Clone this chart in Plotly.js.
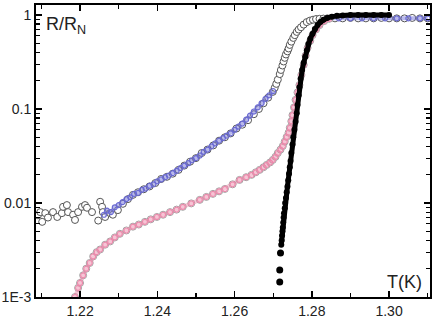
<!DOCTYPE html>
<html>
<head>
<meta charset="utf-8">
<script src="https://cdn.plot.ly/plotly-3.0.1.min.js"></script>
<style>html,body{margin:0;padding:0;background:#fff;}#chart{width:436px;height:319px;}</style>
</head>
<body>
<div id="chart"></div>
<script>
// Upper curve: open circles
var upperT = [1.2091,1.2097,1.2102,1.2110,1.2117,1.2130,1.2141,1.2153,1.2156,1.2166,1.2169,1.2182,1.2187,1.2195,1.2205,1.2213,1.2218,1.2231,1.2247,1.2252,1.2257,1.2259,1.2265,1.2278,1.2285,1.2298,1.2311,1.2324,1.2337,
  1.2350,1.2365,1.2380,1.2395,1.2410,1.2425,1.2440,1.2455,1.2470,1.2485,1.2500,1.2515,1.2530,1.2545,1.2560,1.2575,1.2590,1.2605,1.2620,1.2635,1.2650,1.2663,1.2675,1.2687,1.2699,
  1.2704,1.2708,1.2712,1.2717,1.2720,1.2724,1.2727,1.2730,1.2733,1.2737,1.2740,1.2743,1.2747,1.2752,1.2756,1.2761,1.2766,1.2772,1.2779,1.2787,1.2795,1.2803,1.2811,1.2820,1.2830,1.2840,
  1.2860,1.2880,1.2900,1.2920,1.2940,1.2960,1.2980,1.3000,1.3020,1.3040,1.3060,1.3080,1.3100];
var upperR = [0.0074,0.0080,0.0063,0.0078,0.0070,0.0080,0.0071,0.0078,0.0091,0.0095,0.0080,0.0075,0.0066,0.0080,0.0091,0.0095,0.0089,0.0080,0.0065,0.0103,0.0091,0.0080,0.0071,0.0078,0.0075,0.0084,0.0098,0.0110,0.0122,
  0.0130,0.0140,0.0150,0.0163,0.0180,0.0190,0.0205,0.0225,0.0250,0.0275,0.030,0.034,0.037,0.041,0.046,0.050,0.055,0.062,0.068,0.076,0.088,0.100,0.115,0.132,0.152,
  0.168,0.185,0.205,0.235,0.26,0.29,0.32,0.35,0.38,0.41,0.44,0.48,0.52,0.57,0.61,0.66,0.70,0.74,0.79,0.84,0.87,0.89,0.905,0.91,0.915,0.92,
  0.92,0.92,0.93,0.92,0.92,0.92,0.93,0.92,0.92,0.92,0.93,0.92,0.92];

// Upper curve: blue markers (transition part and normal-state part)
var blueT = [1.2262,1.2270,1.2280,1.2290,1.2300,1.2310,1.2320,1.2330,1.2340,1.2350,1.2360,1.2370,1.2380,1.2390,1.2400,1.2410,1.2420,1.2430,1.2440,1.2450,1.2460,1.2470,1.2480,1.2490,1.2500,1.2510,1.2520,1.2530,1.2540,1.2550,1.2560,1.2570,1.2580,1.2590,1.2600,1.2610,1.2620,1.2630,1.2640,1.2650,1.2660,1.2670,1.2680,1.2690,1.2700];
var blueR = [0.0075,0.0083,0.0080,0.0090,0.0095,0.0102,0.0110,0.0115,0.0125,0.0128,0.0138,0.0142,0.0152,0.0158,0.0170,0.0178,0.0188,0.0196,0.0208,0.0220,0.0235,0.0250,0.0265,0.0285,0.030,0.032,0.035,0.037,0.040,0.043,0.046,0.049,0.052,0.055,0.060,0.065,0.070,0.077,0.085,0.094,0.104,0.115,0.128,0.140,0.155];
var blueTopT = [1.2840,1.2870,1.2900,1.2930,1.2960,1.2990,1.3020,1.3050,1.3080,1.3100];
var blueTopR = [0.92,0.92,0.92,0.92,0.92,0.92,0.92,0.92,0.92,0.92];

// Lower curve: pink + open circles
var lowerT = [1.2187,1.2195,1.2200,1.2208,1.2216,1.2225,1.2234,1.2243,1.2252,1.2265,1.2278,1.2290,1.2303,1.2320,1.2337,1.2352,1.2368,1.2383,1.2399,1.2415,1.2433,1.2450,1.2466,1.2488,1.2510,1.2527,1.2544,1.2560,1.2575,1.2595,1.2613,1.2630,1.2644,1.2655,1.2665,1.2675,1.2683,1.2692,1.2699,1.2706,1.2712,1.2719,1.2725,1.2730,1.2735,1.2740,1.2743,1.2747,1.2750,1.2754,1.2758,1.2763,1.2768,1.2773,1.2779,1.2784,1.2789,1.2796,1.2802,1.2811,1.2820,1.2832,1.2845];
var lowerR = [0.0010,0.00125,0.00141,0.0017,0.0020,0.0023,0.0027,0.0030,0.0032,0.0036,0.0039,0.0043,0.0047,0.0051,0.0056,0.0059,0.0063,0.0067,0.0071,0.0075,0.0080,0.0085,0.0091,0.0099,0.0108,0.0116,0.0125,0.0133,0.0141,0.0158,0.0176,0.0188,0.0199,0.0212,0.0225,0.0240,0.0254,0.0270,0.0287,0.031,0.034,0.037,0.0404,0.045,0.0504,0.056,0.063,0.074,0.086,0.104,0.125,0.150,0.18,0.23,0.294,0.37,0.446,0.53,0.61,0.70,0.78,0.86,0.91];

// Steep curve: filled black circles
var sparseT = [1.2717,1.2717,1.2719];
var sparseR = [0.00144,0.00194,0.00294];
var blackT = [1.2721,1.2722,1.2723,1.2724,1.2725,1.2726,1.2727,1.2728,1.2730,1.2731,1.2733,1.2735,1.2737,1.2739,1.2741,1.2743,1.2745,1.2747,1.2750,1.2752,1.2755,1.2758,1.2761,1.2763,1.2766,1.2768,1.2771,1.2775,1.2779,1.2783,1.2787,1.2791,1.2796,1.2802,1.2808,1.2815,1.2822,1.2830,1.2840,1.2852,1.2865,1.2880,1.2900,1.2920,1.2940,1.2960,1.2980,1.3000];
var blackR = [0.0036,0.0040,0.0045,0.0050,0.0055,0.0062,0.0070,0.0078,0.0088,0.0100,0.0113,0.0130,0.0150,0.0175,0.0205,0.0240,0.028,0.034,0.042,0.050,0.060,0.073,0.090,0.11,0.14,0.17,0.21,0.26,0.31,0.36,0.42,0.49,0.56,0.63,0.71,0.78,0.84,0.89,0.93,0.96,0.98,0.99,1.0,1.0,1.0,1.0,1.0,1.0];

var yTickVals = [1, 0.1, 0.01, 0.001];
var yTickText = ['1', '0.1', '0.01', '1E-3'];

var blueLine = {color: 'rgba(115,115,215,0.5)', width: 4};
var blueMarker = {symbol: 'circle-open', size: 5, color: '#6a6ad2', line: {width: 1.2}};

var traces = [
  {x: upperT, y: upperR, type: 'scatter', mode: 'markers',
   marker: {symbol: 'circle', size: 7, color: '#ffffff', line: {color: '#555555', width: 1}}},
  {x: blueT, y: blueR, type: 'scatter', mode: 'lines+markers', line: blueLine, marker: blueMarker},
  {x: blueTopT, y: blueTopR, type: 'scatter', mode: 'lines+markers', line: blueLine, marker: blueMarker},
  {x: lowerT, y: lowerR, type: 'scatter', mode: 'markers',
   marker: {symbol: 'circle', size: 7, color: '#ffffff', line: {color: '#a0a0a0', width: 1}}},
  {x: lowerT, y: lowerR, type: 'scatter', mode: 'lines+markers',
   line: {color: 'rgba(238,140,172,0.5)', width: 4},
   marker: {symbol: 'circle-open', size: 5, color: '#ec8aac', line: {width: 1.2}}},
  {x: sparseT, y: sparseR, type: 'scatter', mode: 'markers',
   marker: {symbol: 'circle', size: 7, color: '#000000'}},
  {x: blackT, y: blackR, type: 'scatter', mode: 'lines+markers',
   line: {color: '#000000', width: 5},
   marker: {symbol: 'circle', size: 6, color: '#000000'}}
];

var layout = {
  width: 436, height: 319,
  margin: {l: 36, r: 6, t: 5, b: 22, pad: 0},
  paper_bgcolor: '#ffffff', plot_bgcolor: '#ffffff',
  showlegend: false,
  font: {family: 'Liberation Sans, Arial, sans-serif', color: '#222222', size: 14},
  xaxis: {
    range: [1.2086, 1.3106], dtick: 0.02, tick0: 1.22, tickformat: '.2f',
    ticks: 'inside', ticklen: 6, tickwidth: 1.5, tickcolor: '#000',
    showline: true, linecolor: '#000', linewidth: 2, mirror: 'allticks',
    showgrid: false, zeroline: false,
    minor: {dtick: 0.01, tick0: 1.21, ticks: 'inside', ticklen: 4, tickwidth: 1.2, tickcolor: '#000', showgrid: false},
    tickfont: {size: 14, color: '#222'}
  },
  yaxis: {
    type: 'log', range: [-3, 0.106],
    tickmode: 'array', tickvals: yTickVals, ticktext: yTickText,
    ticks: 'inside', ticklen: 6, tickwidth: 1.5, tickcolor: '#000',
    showline: true, linecolor: '#000', linewidth: 2, mirror: 'allticks',
    showgrid: false, zeroline: false,
    minor: {dtick: 'D1', ticks: 'inside', ticklen: 4, tickwidth: 1.2, tickcolor: '#000', showgrid: false},
    tickfont: {size: 14, color: '#222'}
  },
  annotations: [
    {xref: 'paper', yref: 'paper', x: 0.02, y: 0.975, xanchor: 'left', yanchor: 'top', showarrow: false,
     text: 'R/R<sub>N</sub>', font: {size: 18, color: '#222'}},
    {xref: 'paper', yref: 'paper', x: 0.985, y: 0.01, xanchor: 'right', yanchor: 'bottom', showarrow: false,
     text: 'T(K)', font: {size: 18, color: '#222'}}
  ]
};

Plotly.newPlot('chart', traces, layout, {staticPlot: true, displayModeBar: false});
</script>
</body>
</html>
